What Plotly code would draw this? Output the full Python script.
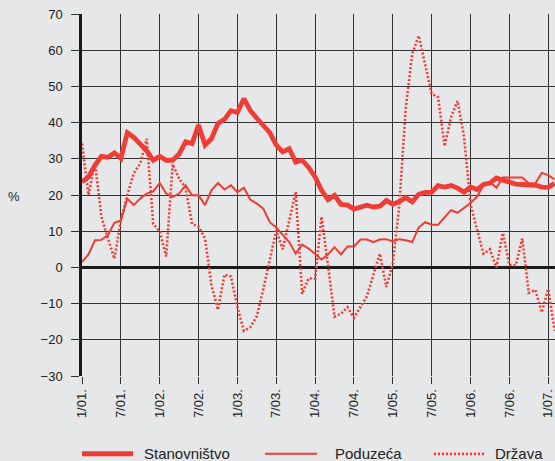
import plotly.graph_objects as go

# ---- data (monthly, Jan 2001 .. Feb 2007), % ----
stanovnistvo = [23.6, 25.0, 28.2, 30.7, 30.4, 31.6, 30.1, 37.2, 35.9, 34.2,
                32.2, 29.6, 30.7, 29.6, 29.6, 31.3, 34.7, 34.2, 39.3, 33.8,
                35.6, 39.8, 40.9, 43.3, 42.8, 46.6, 43.3, 41.2, 39.0, 37.2,
                33.8, 31.9, 32.8, 29.1, 29.6, 27.6, 25.0, 21.3, 18.7, 19.9,
                17.4, 17.2, 16.1, 16.7, 17.2, 16.7, 16.9, 18.5, 17.4, 18.2,
                19.3, 18.1, 20.2, 20.7, 20.8, 22.6, 22.2, 22.6, 21.9, 20.8,
                22.2, 21.5, 22.9, 23.3, 24.7, 24.1, 23.4, 23.0, 22.9, 22.9,
                22.7, 22.2, 22.1, 23.2]
poduzeca = [1.5, 3.6, 7.5, 7.6, 8.9, 12.3, 13.0, 19.0, 17.2, 19.0,
            20.4, 21.0, 23.3, 20.4, 19.5, 20.4, 22.7, 19.9, 19.9, 17.2,
            21.3, 23.3, 21.5, 22.7, 20.8, 22.0, 18.7, 17.6, 16.2, 12.5,
            11.0, 9.1, 7.0, 3.8, 6.3, 5.2, 3.6, 2.2, 3.6, 5.6,
            3.6, 5.8, 5.8, 7.7, 7.7, 7.0, 7.7, 7.8, 7.2, 7.8,
            7.5, 7.0, 11.0, 12.5, 11.8, 11.8, 13.8, 15.8, 15.1, 16.4,
            17.8, 19.5, 22.7, 23.6, 22.0, 24.8, 24.8, 24.8, 24.8, 23.2,
            23.2, 26.1, 25.5, 24.3]
drzava = [34.2, 20.0, 29.0, 14.0, 8.0, 2.4, 13.0, 20.0, 26.0, 28.7,
          35.5, 12.0, 10.0, 3.0, 28.5, 24.5, 22.0, 12.0, 11.3, 8.0,
          -5.0, -11.7, -2.0, -2.5, -11.0, -17.5, -16.5, -13.5, -6.0, 2.0,
          10.2, 5.0, 12.5, 20.8, -7.3, -3.0, -3.1, 14.0, 0.5, -13.6,
          -12.8, -11.0, -13.9, -11.0, -8.0, -2.0, 3.8, -5.4, 1.0, 17.0,
          44.0, 59.0, 64.0, 56.0, 48.0, 47.0, 33.5, 41.5, 46.0, 36.0,
          17.5, 10.5, 3.8, 5.0, 0.0, 9.5, 0.7, 0.6, 8.0, -7.0,
          -6.2, -12.4, -6.0, -17.5]

tick_labels = ["1/01.", "7/01.", "1/02.", "7/02.", "1/03.", "7/03.", "1/04.",
               "7/04.", "1/05.", "7/05.", "1/06.", "7/06.", "1/07."]
y_ticks = [-30, -20, -10, 0, 10, 20, 30, 40, 50, 60, 70]
series_names = ["Stanovništvo", "Poduzeća", "Država"]

months = list(range(len(stanovnistvo)))
tick_vals = [6 * k for k in range(len(tick_labels))]

RED = "#ee3d35"
BG = "#e6e7e8"
GRID = "#333333"
FONT = "Liberation Sans, Arial, Helvetica, sans-serif"

fig = go.Figure()
fig.add_trace(go.Scatter(x=months, y=drzava, mode="lines", name=series_names[2],
                         line=dict(color=RED, width=2.6, dash="2px,2px")))
fig.add_trace(go.Scatter(x=months, y=poduzeca, mode="lines", name=series_names[1],
                         line=dict(color=RED, width=2)))
fig.add_trace(go.Scatter(x=months, y=stanovnistvo, mode="lines", name=series_names[0],
                         line=dict(color=RED, width=4.8)))

# manual legend (decoration in paper coords, below the plot)
leg_y = -0.215
legend_items = [
    (series_names[0], 0.0, 0.108, 0.127, dict(color=RED, width=5)),
    (series_names[1], 0.387, 0.497, 0.531, dict(color=RED, width=2)),
    (series_names[2], 0.744, 0.852, 0.869, dict(color=RED, width=2.6, dash="2px,2px")),
]
shapes = []
annotations = []
for name, x0, x1, xt, ln in legend_items:
    shapes.append(dict(type="line", xref="paper", yref="paper", x0=x0, x1=x1,
                       y0=leg_y, y1=leg_y, line=ln))
    annotations.append(dict(text=name, xref="paper", yref="paper", x=xt, y=leg_y,
                            xanchor="left", yanchor="middle", showarrow=False,
                            font=dict(size=15, color="#222222", family=FONT)))
annotations.append(dict(text="%", xref="paper", yref="paper", x=-0.143, y=0.497,
                        xanchor="center", yanchor="middle", showarrow=False,
                        font=dict(size=13, color="#222222", family=FONT)))

fig.update_layout(
    template="none",
    width=555, height=461,
    margin=dict(l=82, r=0, t=14, b=85),
    paper_bgcolor=BG, plot_bgcolor=BG,
    showlegend=False,
    shapes=shapes, annotations=annotations,
    font=dict(family=FONT, color="#222222", size=13),
)
fig.update_xaxes(
    range=[0, 73.05], tickmode="array", tickvals=tick_vals, ticktext=tick_labels,
    tickangle=-90, ticks="outside", ticklen=7, tickcolor=GRID, tickwidth=1,
    showgrid=True, gridcolor=GRID, gridwidth=1, zeroline=False, showline=False,
    tickfont=dict(size=13, color="#222222"), automargin=False,
    ticklabeloverflow="allow",
)
fig.update_yaxes(
    range=[-30, 70], tickmode="array", tickvals=y_ticks,
    ticks="outside", ticklen=8, tickcolor=GRID, tickwidth=1,
    showgrid=True, gridcolor=GRID, gridwidth=1,
    zeroline=True, zerolinecolor="#1a1a1a", zerolinewidth=2.5,
    showline=True, linecolor="#1a1a1a", linewidth=2.5,
    tickfont=dict(size=13, color="#222222"), automargin=False,
    ticklabelstandoff=6,
)

fig.write_html("out.html",
               config={"displayModeBar": False},
               post_script="document.body.style.margin='0';"
                           "document.body.style.background='" + BG + "';")
